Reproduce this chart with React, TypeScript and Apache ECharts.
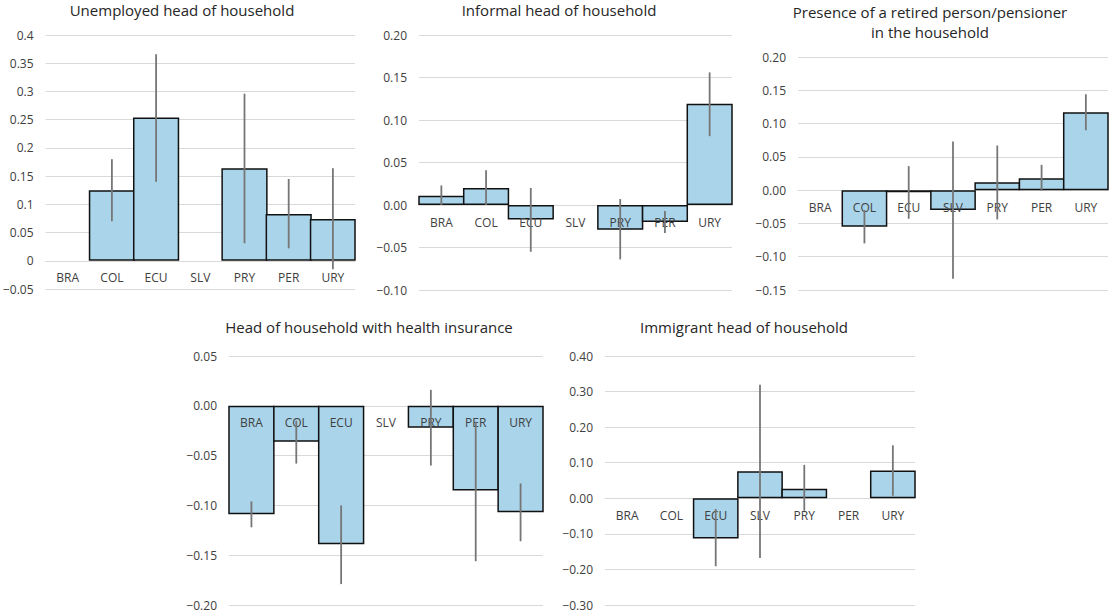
import React, { useEffect, useRef } from "react";
import * as echarts from "echarts";

const countries = ["BRA", "COL", "ECU", "SLV", "PRY", "PER", "URY"];

const titles = [
  "Unemployed head of household",
  "Informal head of household",
  "Presence of a retired person/pensioner\nin the household",
  "Head of household with health insurance",
  "Immigrant head of household",
];

// Panel 1: Unemployed head of household
const unemployedValues = [null, 0.125, 0.254, null, 0.164, 0.083, 0.074];
const unemployedLow = [null, 0.07, 0.14, null, 0.031, 0.022, -0.015];
const unemployedHigh = [null, 0.18, 0.366, null, 0.296, 0.145, 0.164];

// Panel 2: Informal head of household
const informalValues = [0.011, 0.02, -0.017, null, -0.029, -0.02, 0.119];
const informalLow = [0.0, 0.0, -0.055, null, -0.064, -0.033, 0.081];
const informalHigh = [0.023, 0.041, 0.02, null, 0.007, -0.007, 0.156];

// Panel 3: Presence of a retired person/pensioner
const retiredValues = [null, -0.055, -0.003, -0.03, 0.012, 0.018, 0.117];
const retiredLow = [null, -0.08, -0.043, -0.133, -0.044, -0.001, 0.09];
const retiredHigh = [null, -0.03, 0.036, 0.073, 0.067, 0.038, 0.144];

// Panel 4: Head of household with health insurance
const insuranceValues = [-0.109, -0.036, -0.139, null, -0.022, -0.085, -0.107];
const insuranceLow = [-0.122, -0.058, -0.179, null, -0.06, -0.156, -0.136];
const insuranceHigh = [-0.096, -0.015, -0.1, null, 0.016, -0.016, -0.078];

// Panel 5: Immigrant head of household
const immigrantValues = [null, null, -0.113, 0.076, 0.027, null, 0.078];
const immigrantLow = [null, null, -0.191, -0.168, -0.035, null, 0.007];
const immigrantHigh = [null, null, -0.03, 0.319, 0.094, null, 0.149];

// Axis settings per panel
const yMins = [-0.05, -0.1, -0.15, -0.2, -0.3];
const yMaxs = [0.4, 0.2, 0.2, 0.05, 0.4];
const yIntervals = [0.05, 0.05, 0.05, 0.05, 0.1];
const yDecimals = [-1, 2, 2, 2, 2];

const panelValues = [unemployedValues, informalValues, retiredValues, insuranceValues, immigrantValues];
const panelLow = [unemployedLow, informalLow, retiredLow, insuranceLow, immigrantLow];
const panelHigh = [unemployedHigh, informalHigh, retiredHigh, insuranceHigh, immigrantHigh];

// layout (pixels)
const grids = [
  { left: 42, top: 35, width: 313, height: 254 },
  { left: 419, top: 35, width: 313, height: 255 },
  { left: 798, top: 57, width: 310, height: 233 },
  { left: 229, top: 356, width: 314, height: 249 },
  { left: 605, top: 356, width: 310, height: 249 },
];
const titlePos = [
  { x: 182, y: 0 },
  { x: 559, y: 0 },
  { x: 930, y: 2 },
  { x: 369, y: 317 },
  { x: 744, y: 317 },
];

const FONT = "'Open Sans', 'Liberation Sans', sans-serif";
const BAR_COLOR = "#a9d4ea";
const ERR_COLOR = "#767676";
const TEXT_COLOR = "#404040";
const BORDER_W = 1.5;

function fmt(v: number, dec: number): string {
  let s: string;
  if (dec < 0) {
    s = String(parseFloat(v.toFixed(4)));
  } else {
    s = Math.abs(v) < 1e-9 ? (0).toFixed(dec) : v.toFixed(dec);
  }
  if (s.startsWith("-")) s = "\u2212" + s.slice(1);
  return s;
}

export default function App() {
  const ref = useRef<HTMLDivElement>(null);
  useEffect(() => {
    if (!ref.current) return;
    const chart = echarts.init(ref.current, undefined, { renderer: "svg" });

    const title: any[] = [];
    const grid: any[] = [];
    const xAxis: any[] = [];
    const yAxis: any[] = [];
    const series: any[] = [];

    for (let i = 0; i < 5; i++) {
      title.push({
        text: titles[i],
        left: titlePos[i].x,
        top: titlePos[i].y,
        padding: 0,
        textAlign: "center",
        textStyle: {
          fontFamily: FONT,
          fontSize: 15,
          fontWeight: "normal",
          color: "#262626",
          lineHeight: 20,
        },
      });
      grid.push({ ...grids[i], containLabel: false });
      xAxis.push({
        type: "category",
        gridIndex: i,
        data: countries,
        axisLine: { show: true, onZero: true, lineStyle: { color: "#d9d9d9", width: 1 } },
        axisTick: { show: false },
        axisLabel: { show: false },
        splitLine: { show: false },
      });
      const dec = yDecimals[i];
      yAxis.push({
        type: "value",
        gridIndex: i,
        min: yMins[i],
        max: yMaxs[i],
        interval: yIntervals[i],
        axisLine: { show: false },
        axisTick: { show: false },
        axisLabel: {
          margin: 12,
          fontFamily: FONT,
          fontSize: 12,
          color: TEXT_COLOR,
          formatter: (v: number) => fmt(v, dec),
        },
        splitLine: { show: true, lineStyle: { color: "#d9d9d9", width: 1 } },
      });
      const band = grids[i].width / countries.length;
      series.push({
        type: "bar",
        xAxisIndex: i,
        yAxisIndex: i,
        data: panelValues[i].map((v) => (v === null ? "-" : v)),
        barWidth: band + BORDER_W,
        barCategoryGap: "0%",
        itemStyle: { color: BAR_COLOR, borderColor: "#111", borderWidth: BORDER_W },
        z: 2,
      });
      // category labels at the zero line
      series.push({
        type: "custom",
        xAxisIndex: i,
        yAxisIndex: i,
        z: 6,
        silent: true,
        data: countries.map((c, k) => [k, 0]),
        encode: { x: 0, y: 1 },
        renderItem: (params: any, api: any) => {
          const p = api.coord([api.value(0), 0]);
          return {
            type: "text",
            x: p[0],
            y: p[1] + 17,
            style: {
              text: countries[params.dataIndex],
              fill: TEXT_COLOR,
              font: `12px ${FONT}`,
              align: "center",
              verticalAlign: "middle",
            },
          };
        },
      });
      const errData: any[] = [];
      for (let k = 0; k < countries.length; k++) {
        const lo = panelLow[i][k];
        const hi = panelHigh[i][k];
        if (lo !== null && hi !== null) errData.push([k, lo, hi]);
      }
      series.push({
        type: "custom",
        xAxisIndex: i,
        yAxisIndex: i,
        z: 10,
        silent: true,
        data: errData,
        encode: { x: 0, y: [1, 2] },
        renderItem: (params: any, api: any) => {
          const p1 = api.coord([api.value(0), api.value(1)]);
          const p2 = api.coord([api.value(0), api.value(2)]);
          return {
            type: "line",
            shape: { x1: p1[0], y1: p1[1], x2: p2[0], y2: p2[1] },
            style: { stroke: ERR_COLOR, lineWidth: 1.8 },
          };
        },
      });
    }

    chart.setOption({
      animation: false,
      backgroundColor: "#ffffff",
      title,
      grid,
      xAxis,
      yAxis,
      series,
    });
    return () => chart.dispose();
  }, []);

  return (
    <div
      ref={ref}
      style={{ position: "fixed", left: 0, top: 0, width: 1110, height: 614, background: "#fff" }}
    />
  );
}
